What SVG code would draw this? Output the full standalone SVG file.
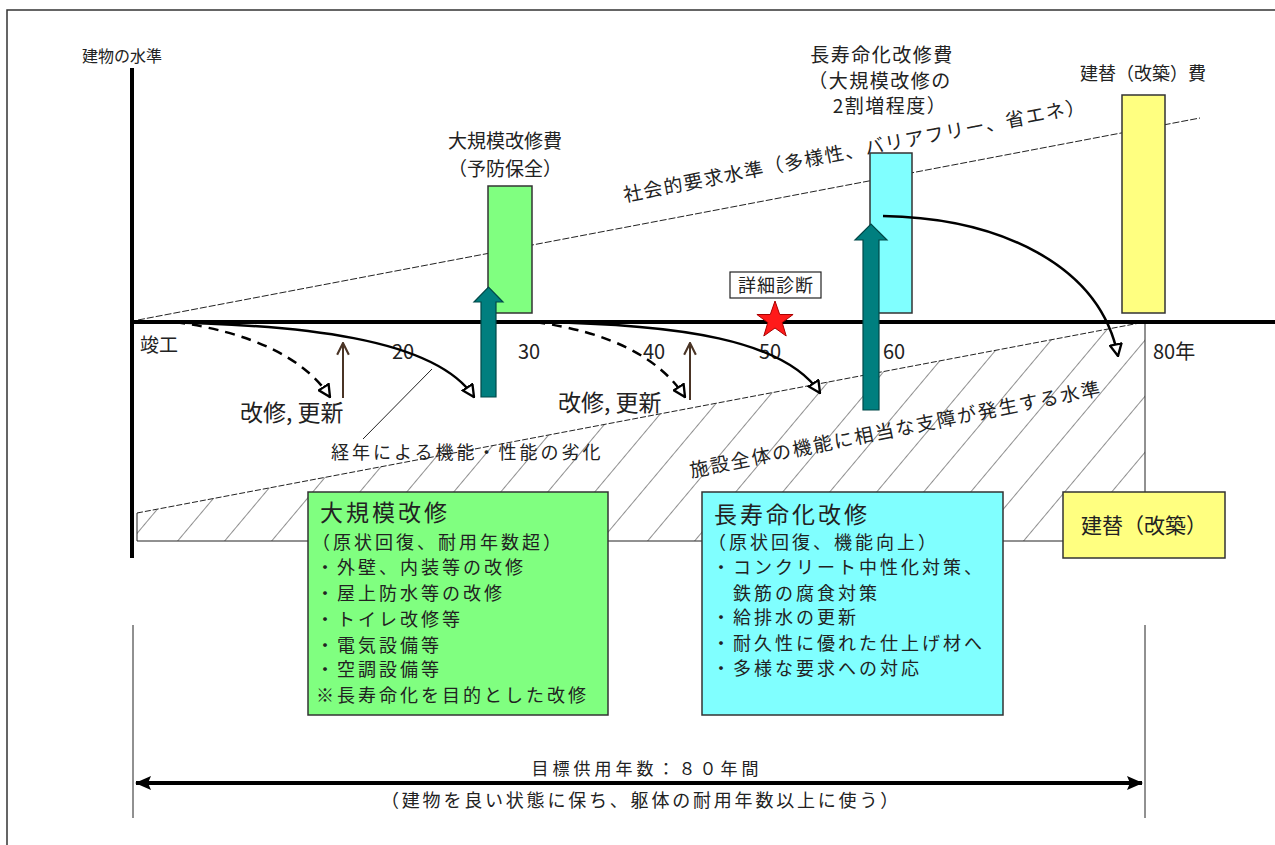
<svg xmlns="http://www.w3.org/2000/svg" width="1275" height="845" viewBox="0 0 1275 845">
<style>
text{font-family:"Noto Sans CJK JP","Noto Sans",sans-serif;fill:#222;}
.t16{font-size:16px;}
.t18{font-size:18px;}
.t19{font-size:19px;}
.t20{font-size:20px;}
.bx{font-size:18px;letter-spacing:3px;}
.bt{font-size:23px;letter-spacing:3px;}
.ax{stroke:#000;stroke-width:4;fill:none;}
.thin{stroke:#222;stroke-width:1;fill:none;}
.curve{stroke:#000;stroke-width:2.5;fill:none;marker-end:url(#open);}
.dcurve{stroke:#000;stroke-width:2.5;fill:none;stroke-dasharray:10 7;marker-end:url(#open);}
.up{stroke:#4a3425;stroke-width:2;fill:none;marker-end:url(#vhead);}
.teal{fill:#007f7f;stroke:#004848;stroke-width:1.2;}
.bar{stroke:#333;stroke-width:1.5;}
</style>
<defs>
<marker id="open" markerUnits="userSpaceOnUse" markerWidth="14" markerHeight="14" viewBox="0 0 12 12" refX="11" refY="6" orient="auto">
<path d="M1,1 L11,6 L1,11 z" fill="#fff" stroke="#000" stroke-width="2"/>
</marker>
<marker id="vhead" markerUnits="userSpaceOnUse" markerWidth="14" markerHeight="14" viewBox="0 0 12 12" refX="11" refY="6" orient="auto">
<path d="M1,1 L11,6 L1,11" fill="none" stroke="#4a3425" stroke-width="1.8"/>
</marker>
<marker id="fillhead" markerUnits="userSpaceOnUse" markerWidth="16" markerHeight="14" viewBox="0 0 16 14" refX="15" refY="7" orient="auto-start-reverse">
<path d="M0,0 L16,7 L0,14 L3,7 z" fill="#000"/>
</marker>
<pattern id="hatch" patternUnits="userSpaceOnUse" width="36" height="20" patternTransform="translate(177,541) rotate(40)">
<line x1="0" y1="-5" x2="0" y2="25" stroke="#222" stroke-width="1"/>
</pattern>
</defs>

<rect x="7" y="10" width="1300" height="900" fill="#fff" stroke="#333" stroke-width="1.5"/>

<g id="hatched-zone">
<polygon points="137,513 1145,322 1145,541 137,541" fill="url(#hatch)"/>
<polyline points="137,513 137,541 1145,541 1145,322" class="thin"/>
<line x1="137" y1="513" x2="1145" y2="322" stroke="#222" stroke-width="1" stroke-dasharray="6 2"/>
<text class="t19" style="letter-spacing:2px" transform="translate(897,436) rotate(-11.4)" text-anchor="middle">施設全体の機能に相当な支障が発生する水準</text>
</g>

<g id="social-line">
<line x1="138" y1="320" x2="1200" y2="118" stroke="#222" stroke-width="1" stroke-dasharray="7 2"/>
<text class="t19" style="letter-spacing:1.5px" transform="translate(856,157) rotate(-11)" text-anchor="middle">社会的要求水準（多様性、バリアフリー、省エネ）</text>
</g>

<g id="bar-green">
<rect x="488" y="186" width="44" height="127" fill="#80ff80" class="bar"/>
<text class="t19" x="505" y="148" text-anchor="middle">大規模改修費</text>
<text class="t19" x="505" y="176" text-anchor="middle">（予防保全）</text>
</g>
<g id="bar-cyan">
<rect x="870" y="153" width="42" height="160" fill="#80ffff" class="bar"/>
<text class="t19" style="letter-spacing:1.5px" x="882" y="62" text-anchor="middle">長寿命化改修費</text>
<text class="t19" style="letter-spacing:1.5px" x="880" y="88" text-anchor="middle">（大規模改修の</text>
<text class="t19" style="letter-spacing:1.5px" x="890" y="113" text-anchor="middle">2割増程度）</text>
</g>
<g id="bar-yellow">
<rect x="1122" y="95" width="43" height="218" fill="#ffff80" class="bar"/>
<text class="t18" x="1143" y="80" text-anchor="middle">建替（改築）費</text>
</g>

<g id="axes">
<line x1="132" y1="68" x2="132" y2="558" class="ax"/>
<line x1="130" y1="322" x2="1280" y2="322" class="ax"/>
<text class="t16" x="82" y="62">建物の水準</text>
<text class="t19" x="140" y="352">竣工</text>
<text class="t20" x="392" y="359">20</text>
<text class="t20" x="518" y="359">30</text>
<text class="t20" x="643" y="359">40</text>
<text class="t20" x="759" y="359">50</text>
<text class="t20" x="883" y="359">60</text>
<text class="t20" x="1153" y="359">80年</text>
</g>

<g id="diagnosis">
<rect x="730" y="272" width="91" height="26" fill="#fff" stroke="#222" stroke-width="1.2"/>
<text class="t18" x="776" y="292" text-anchor="middle" style="letter-spacing:1px">詳細診断</text>
<polygon points="775,301 779.7,314.5 793.1,314.5 782.2,322.6 786.2,336 775,328 763.8,336 767.8,322.6 756.9,314.5 770.3,314.5" fill="#ff1a1a" stroke="#a00" stroke-width="1"/>
</g>

<g id="connectors">
<path class="dcurve" d="M175,322 C250,332 305,358 330,397"/>
<path class="curve" d="M150,322 C300,324 435,338 474,397"/>
<path class="dcurve" d="M535,322 C610,332 660,358 685,397"/>
<path class="curve" d="M535,322 C680,324 785,340 820,393"/>
<path class="curve" d="M883,216 C1000,218 1100,265 1118,356"/>
<line x1="343" y1="398" x2="343" y2="343" class="up"/>
<line x1="690" y1="400" x2="690" y2="343" class="up"/>
<polygon class="teal" points="481,397 481,302 474,302 488.5,287 503,302 496,302 496,397"/>
<polygon class="teal" points="863,410 863,240 855,240 871,224 887,240 879,240 879,410"/>
<line x1="432" y1="369" x2="363" y2="439" stroke="#222" stroke-width="1"/>
</g>

<g id="labels">
<text x="240" y="421" style="font-size:23px">改修, 更新</text>
<text x="558" y="411" style="font-size:23px">改修, 更新</text>
<text class="t18" style="letter-spacing:3px" x="331" y="459">経年による機能・性能の劣化</text>
</g>

<g id="box-green">
<rect x="308" y="492" width="300" height="223" fill="#80ff80" stroke="#333" stroke-width="1.5"/>
<text class="bt" x="320" y="521">大規模改修</text>
<text class="bx" x="312" y="549">（原状回復、耐用年数超）</text>
<text class="bx" x="316" y="574">・外壁、内装等の改修</text>
<text class="bx" x="316" y="600">・屋上防水等の改修</text>
<text class="bx" x="316" y="626">・トイレ改修等</text>
<text class="bx" x="316" y="652">・電気設備等</text>
<text class="bx" x="316" y="676">・空調設備等</text>
<text class="bx" x="316" y="702">※長寿命化を目的とした改修</text>
</g>

<g id="box-cyan">
<rect x="702" y="492" width="301" height="223" fill="#80ffff" stroke="#333" stroke-width="1.5"/>
<text class="bt" x="714" y="523">長寿命化改修</text>
<text class="bx" x="708" y="549">（原状回復、機能向上）</text>
<text class="bx" x="712" y="574">・コンクリート中性化対策、</text>
<text class="bx" x="733" y="600">鉄筋の腐食対策</text>
<text class="bx" x="712" y="624">・給排水の更新</text>
<text class="bx" x="712" y="650">・耐久性に優れた仕上げ材へ</text>
<text class="bx" x="712" y="675">・多様な要求への対応</text>
</g>

<g id="box-yellow">
<rect x="1063" y="492" width="162" height="66" fill="#ffff80" stroke="#333" stroke-width="1.5"/>
<text x="1144" y="533" text-anchor="middle" style="font-size:21px">建替（改築）</text>
</g>

<g id="span">
<line x1="133" y1="625" x2="133" y2="818" class="thin"/>
<line x1="1145" y1="625" x2="1145" y2="818" class="thin"/>
<line x1="136" y1="783" x2="1142" y2="783" stroke="#000" stroke-width="4" marker-start="url(#fillhead)" marker-end="url(#fillhead)"/>
<text x="647" y="775" text-anchor="middle" style="font-size:17px;letter-spacing:4px">目標供用年数：８０年間</text>
<text x="641" y="807" text-anchor="middle" style="font-size:18px;letter-spacing:2.8px">（建物を良い状態に保ち、躯体の耐用年数以上に使う）</text>
</g>
</svg>
